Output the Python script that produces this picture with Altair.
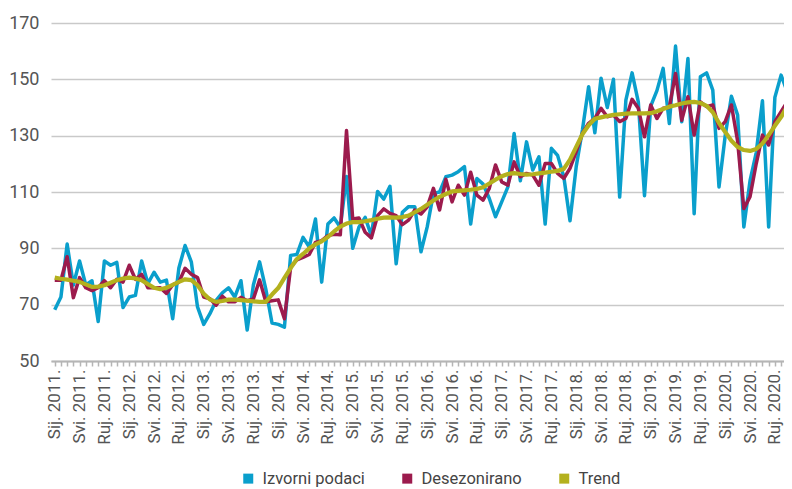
import json
import altair as alt
import pandas as pd

series_names = ["Izvorni podaci", "Desezonirano", "Trend"]
series_colors = ["#0a9fcc", "#9c1b4d", "#b4b11e"]
series_widths = [3.5, 3.5, 4.2]

tick_labels = [
    "Sij. 2011.", "Svi. 2011.", "Ruj. 2011.",
    "Sij. 2012.", "Svi. 2012.", "Ruj. 2012.",
    "Sij. 2013.", "Svi. 2013.", "Ruj. 2013.",
    "Sij. 2014.", "Svi. 2014.", "Ruj. 2014.",
    "Sij. 2015.", "Svi. 2015.", "Ruj. 2015.",
    "Sij. 2016.", "Svi. 2016.", "Ruj. 2016.",
    "Sij. 2017.", "Svi. 2017.", "Ruj. 2017.",
    "Sij. 2018.", "Svi. 2018.", "Ruj. 2018.",
    "Sij. 2019.", "Svi. 2019.", "Ruj. 2019.",
    "Sij. 2020.", "Svi. 2020.", "Ruj. 2020.",
]

y_ticks = [50, 70, 90, 110, 130, 150, 170]

izvorni = [
    68.2, 72.7, 91.5, 77.0, 85.5, 77.0, 78.5, 64.0, 85.5, 84.0, 85.0, 69.0,
    72.7, 73.3, 85.5, 77.5, 81.5, 78.0, 78.7, 65.0, 83.0, 91.0, 85.2, 69.2,
    63.0, 66.8, 71.5, 74.2, 76.0, 72.7, 78.5, 61.0, 77.0, 85.2, 75.5, 63.5,
    63.0, 62.0, 87.5, 87.8, 93.9, 90.5, 100.4, 78.0, 98.6, 100.8, 97.5, 115.5,
    90.0, 97.5, 101.0, 94.5, 110.2, 107.5, 112.0, 84.5, 102.8, 104.8, 104.8, 88.8,
    97.6, 109.5, 110.0, 115.4, 116.0, 117.2, 119.0, 98.6, 114.8, 112.8, 107.7, 101.2,
    106.5, 111.8, 130.8, 114.0, 127.8, 117.8, 122.5, 98.6, 125.5, 123.0, 115.4, 99.8,
    119.0, 132.0, 147.4, 131.0, 150.4, 140.0, 150.0, 108.2, 142.6, 152.3, 142.0, 108.7,
    140.5, 146.0, 153.9, 134.3, 161.8, 134.9, 157.4, 102.3, 150.9, 152.3, 146.2, 111.8,
    130.0, 144.0, 137.3, 97.6, 114.0, 124.0, 142.4, 97.6, 143.6, 151.5, 145.6, 112.0,
]

desezonirano = [
    78.7, 78.7, 87.0, 72.5, 79.6, 76.0, 75.0, 76.0, 78.5, 76.0, 79.0, 78.0,
    84.0, 79.0, 80.8, 76.0, 76.0, 76.0, 74.0, 77.0, 78.0, 82.9, 80.8, 79.6,
    72.7, 72.1, 69.8, 73.0, 71.0, 71.0, 72.6, 71.4, 72.0, 78.8, 71.0, 71.4,
    71.7, 65.0, 83.3, 85.9, 86.8, 87.8, 92.1, 92.7, 94.5, 95.0, 94.8, 131.8,
    100.4, 100.8, 95.7, 93.7, 101.6, 104.0, 102.4, 101.6, 98.4, 100.0, 103.6, 102.2,
    104.7, 111.3, 103.6, 114.5, 106.5, 112.4, 108.9, 117.0, 108.9, 107.1, 111.3, 119.6,
    113.6, 112.4, 120.7, 115.4, 116.6, 116.0, 112.4, 120.1, 120.1, 116.6, 114.8, 118.4,
    124.3, 130.8, 134.4, 136.1, 139.7, 136.7, 137.3, 135.0, 136.1, 142.9, 139.7, 129.6,
    140.9, 136.1, 139.7, 140.0, 152.1, 135.5, 143.8, 130.2, 142.0, 140.3, 140.9, 132.6,
    135.0, 140.9, 128.0, 104.1, 108.3, 120.1, 130.2, 126.7, 135.0, 138.5, 142.0, 144.0,
]

trend = [
    79.6, 79.2, 78.9, 78.5, 78.1, 77.2, 76.3, 76.4, 76.9, 77.8, 78.7, 79.3,
    79.6, 79.3, 78.7, 77.3, 76.0, 75.5, 76.0, 77.0, 78.1, 79.0, 78.7, 76.9,
    73.9, 71.8, 71.0, 71.3, 71.8, 71.8, 71.6, 71.4, 71.2, 71.0, 71.0, 73.6,
    75.9, 79.5, 83.0, 86.2, 88.0, 90.0, 91.4, 92.5, 94.0, 96.0, 97.7, 98.8,
    99.3, 99.3, 99.6, 100.0, 100.5, 100.9, 101.0, 100.9, 101.1, 101.6, 102.8, 104.0,
    105.5, 107.0, 108.3, 109.3, 110.2, 110.4, 110.6, 110.8, 111.1, 111.7, 113.0, 114.4,
    115.6, 116.4, 116.7, 116.4, 116.2, 116.3, 116.6, 116.9, 117.2, 117.5, 118.2, 121.5,
    126.0, 130.5, 133.7, 136.0, 136.5, 137.0, 137.4, 137.6, 137.8, 137.9, 137.9, 137.9,
    138.0, 138.7, 139.5, 140.3, 140.8, 141.4, 141.8, 142.0, 141.6, 140.6, 138.3, 134.5,
    131.3, 128.2, 126.0, 124.9, 124.6, 125.3, 127.2, 130.2, 133.5, 136.6, 140.4, 143.5,
]

rows = []
for name, vals in zip(series_names, [izvorni, desezonirano, trend]):
    for m, v in enumerate(vals):
        rows.append({"m": m, "v": v, "s": name})
df = pd.DataFrame(rows)

FONT = "Roboto"
label_expr = "datum.value % 4 === 0 ? " + json.dumps(tick_labels) + "[datum.value / 4] : ''"

PLOT_W = 733
x_enc = alt.X(
    "m:Q",
    scale=alt.Scale(domain=[-0.6, 117.47], nice=False, zero=False),
    axis=alt.Axis(
        title=None,
        values=list(range(118)),
        labelExpr=label_expr,
        labelAngle=-90,
        labelFont=FONT,
        labelFontSize=17,
        labelColor="#555555",
        labelPadding=3,
        labelOverlap=False,
        labelBound=False,
        grid=False,
        domainColor="#b5b5b5",
        domainWidth=2,
        tickColor="#b5b5b5",
        tickSize=5,
        tickWidth=1.5,
    ),
)
y_enc = alt.Y(
    "v:Q",
    scale=alt.Scale(domain=[50, 170], nice=False, zero=False),
    axis=alt.Axis(
        title=None,
        values=y_ticks,
        labelFont=FONT,
        labelFontSize=18,
        labelColor="#555555",
        labelPadding=12,
        grid=True,
        gridColor="#c9c9c9",
        gridWidth=1.5,
        domain=False,
        ticks=False,
    ),
)
color_enc = alt.Color(
    "s:N",
    scale=alt.Scale(domain=series_names, range=series_colors),
    legend=alt.Legend(
        title=None,
        orient="none",
        direction="horizontal",
        legendX=189,
        legendY=447,
        padding=0,
        symbolType="square",
        symbolSize=16,
        symbolStrokeWidth=6,
        labelFont=FONT,
        labelFontSize=16.5,
        labelColor="#444444",
        labelOffset=6,
        columnPadding=28,
    ),
)

base = alt.Chart(df)
layers = []
for name, w in zip(series_names, series_widths):
    layers.append(
        base.transform_filter(alt.datum.s == name)
        .mark_line(strokeWidth=w, clip=True, strokeJoin="round")
        .encode(x=x_enc, y=y_enc, color=color_enc)
    )

chart = (
    alt.layer(*layers)
    .properties(
        width=PLOT_W,
        height=338,
        padding={"left": 43, "top": 15, "right": 0, "bottom": 128},
        autosize=alt.AutoSizeParams(type="none"),
        background="white",
    )
    .configure_view(stroke=None)
)

chart.save("out.html", embed_options={"renderer": "svg", "actions": False})
